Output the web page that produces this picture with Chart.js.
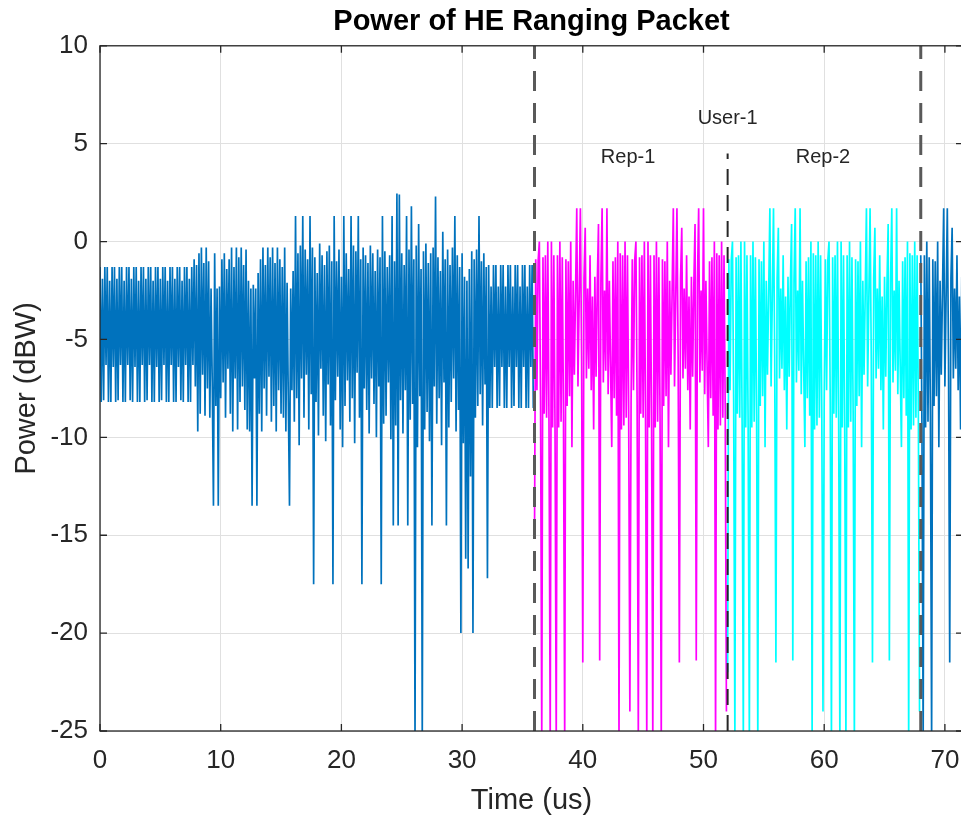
<!DOCTYPE html>
<html>
<head>
<meta charset="utf-8">
<script src="https://cdn.jsdelivr.net/npm/chart.js"></script>
</head>
<body style="margin:0;padding:0;overflow:hidden;background:#fff;">
<canvas id="powerChart" width="975" height="815"></canvas>
<script>
// sample spacing of the traces (us)
const dt = 0.1;

// blue trace, L-STF 0 - 7.9 us
const lstf = [
  -1.3,-8.2,-1.9,-8.1,-1.3,-6.3,-1.3,-8.2,-2.0,-8.2,
  -1.3,-6.4,-1.3,-8.2,-1.9,-8.1,-1.3,-6.3,-1.3,-8.2,
  -2.0,-8.2,-1.3,-6.3,-1.3,-8.1,-1.9,-8.2,-1.3,-6.4,
  -1.3,-8.2,-2.0,-8.2,-1.3,-6.3,-1.3,-8.2,-1.9,-8.1,
  -1.3,-6.3,-1.3,-8.2,-2.0,-8.2,-1.3,-6.4,-1.3,-8.2,
  -1.9,-8.1,-1.3,-6.3,-1.3,-8.2,-2.0,-8.2,-1.3,-6.3,
  -1.3,-8.2,-1.9,-8.2,-1.3,-6.4,-1.3,-8.1,-2.0,-8.2,
  -1.3,-6.3,-1.3,-8.2,-1.9,-8.2,-1.3,-6.3,-0.9,-7.4
];
// L-LTF 8.0 - 15.9 us
const lltf = [
  -1.2,-9.7,-0.6,-8.8,-0.3,-6.8,-1.1,-8.9,-0.3,-7.5,
  -1.0,-9.0,-2.4,-7.2,-13.5,-0.6,-8.4,-2.4,-13.5,-2.3,
  -8.0,-0.9,-7.2,-0.6,-9.0,-1.4,-6.5,-0.9,-8.8,-0.3,
  -9.7,-1.3,-7.0,-0.3,-9.6,-0.8,-8.2,-0.3,-7.4,-1.2,
  -8.6,-0.4,-9.6,-2.0,-9.7,-2.4,-13.5,-2.2,-7.0,-2.4,
  -13.5,-1.6,-8.8,-0.9,-9.7,-0.3,-7.5,-1.2,-8.9,-0.3,
  -6.9,-0.8,-9.2,-0.3,-8.4,-1.1,-9.7,-0.3,-7.6,-0.9,
  -8.8,-1.3,-9.0,-0.3,-9.7,-2.1,-8.0,-13.5,-2.4,-7.6
];
// L-SIG, RL-SIG, HE-SIG-A 16.0 - 31.9 us
const sig = [
  -1.5,-9.2,1.3,-8.0,-0.6,-10.4,-0.2,-7.0,1.3,-9.0,
  -0.4,-6.8,-0.9,-9.6,1.3,-7.8,-0.3,-17.5,-0.8,-8.2,
  -1.6,-9.9,-0.1,-6.5,-0.7,-8.9,-1.2,-10.2,-0.5,-7.3,
  -0.2,-9.4,-1.0,-17.5,1.3,-8.1,-1.0,-6.9,-0.4,-9.6,
  -1.8,-10.5,1.3,-8.4,-0.6,-7.1,-1.4,-9.2,1.3,-8.0,
  -0.2,-10.3,-0.5,-6.7,1.3,-9.0,-0.9,-17.5,-0.3,-7.5,
  -0.7,-8.6,-1.1,-9.8,-0.2,-7.0,-0.6,-8.3,-1.5,-10.0,
  -0.4,-7.4,-0.8,-17.5,1.3,-9.3,-0.5,-8.9,-1.3,-7.2,
  -0.7,-10.1,1.3,-14.5,-1.0,-9.4,2.46,-14.5,2.4,-8.1,
  -0.6,-9.8,-1.2,-7.6,1.3,-14.5,-0.4,-9.1,1.8,-8.3,
  -0.9,-25.5,-0.2,-10.5,0.9,-7.9,-1.4,-25.5,-0.5,-9.6,
  -0.1,-8.7,-1.1,-10.2,-0.6,-14.5,-0.3,-7.4,2.3,-9.3,
  -0.8,-8.0,-1.5,-10.4,0.5,-7.2,-0.9,-14.5,-0.4,-9.5,
  -1.2,-8.2,-0.3,-7.0,1.3,-9.7,-0.7,-8.6,-1.3,-20.0,
  -0.6,-10.3,-1.8,-16.2,-2.0,-16.7,-1.4,-12.0,-0.5,-20.0,
  -0.9,-9.0,-0.4,-8.4,1.3,-7.8,-1.0,-9.4,-0.6,-7.3
];
// HE-STF 32.0 - 35.9 us
const hestf = [
  -1.3,-17.2,-1.2,-8.5,-2.3,-8.5,-1.2,-6.4,-1.2,-8.5,
  -2.3,-8.4,-1.2,-6.4,-1.2,-8.5,-2.3,-8.5,-1.2,-6.4,
  -1.2,-8.5,-2.3,-8.4,-1.2,-6.4,-1.2,-8.5,-2.3,-8.5,
  -1.2,-6.4,-1.2,-8.5,-2.3,-8.5,-1.2,-6.4,-1.2,-8.5
];
// Rep-1 (magenta) 36.0 - 51.9 us
const rep1 = [
  -15.0,-0.9,-7.6,-1.0,0.0,-8.2,-25.5,-0.8,-8.8,-0.7,
  -9.0,0.0,-9.3,-25.5,0.0,-9.5,-0.7,-9.6,-25.5,-0.7,
  -9.5,0.0,-9.2,-0.8,-8.9,-25.5,-0.9,-8.4,-1.0,-7.9,
  0.0,-10.5,-2.0,-6.8,-2.6,1.7,-7.4,-2.9,1.7,-6.0,
  -21.5,-1.9,0.7,-7.0,-2.4,-6.5,-0.7,-7.6,-2.8,-9.6,
  -1.8,-6.9,-2.2,0.9,-21.4,-2.0,1.7,-7.2,-2.5,-6.6,
  1.7,-7.8,-2.0,-6.4,-10.5,-1.0,-8.0,-0.8,-8.9,0.0,
  -25.5,-0.6,-9.6,-0.7,-9.4,0.0,-9.0,-0.7,-8.6,-24.0,
  -8.3,-0.9,-7.6,-1.0,0.0,-8.2,-25.5,-0.8,-8.8,-0.7,
  -9.0,0.0,-9.3,-25.5,0.0,-9.5,-0.7,-9.6,-25.5,-0.7,
  -9.5,0.0,-9.2,-0.8,-8.9,-25.5,-0.9,-8.4,-1.0,-7.9,
  0.0,-10.5,-2.0,-6.8,-2.6,1.7,-7.4,-2.9,1.7,-6.0,
  -21.5,-1.9,0.7,-7.0,-2.4,-6.5,-0.7,-7.6,-2.8,-9.6,
  -1.8,-6.9,-2.2,0.9,-21.4,-2.0,1.7,-7.2,-2.5,-6.6,
  1.7,-7.8,-2.0,-6.4,-10.5,-1.0,-8.0,-0.8,-8.9,0.0,
  -25.5,-0.6,-9.6,-0.7,-9.4,0.0,-9.0,-0.7,-8.6,-24.0
];
// Rep-2 (cyan) 52.0 - 67.9 us, reads the same as Rep-1
const rep2 = [
  -22.0,-0.9,-7.6,-1.0,0.0,-8.2,-25.5,-0.8,-8.8,-0.7,
  -9.0,0.0,-9.3,-25.5,0.0,-9.5,-0.7,-9.6,-25.5,-0.7,
  -9.5,0.0,-9.2,-0.8,-8.9,-25.5,-0.9,-8.4,-1.0,-7.9,
  0.0,-10.5,-2.0,-6.8,-2.6,1.7,-7.4,-2.9,1.7,-6.0,
  -21.5,-1.9,0.7,-7.0,-2.4,-6.5,-0.7,-7.6,-2.8,-9.6,
  -1.8,-6.9,-2.2,0.9,-21.4,-2.0,1.7,-7.2,-2.5,-6.6,
  1.7,-7.8,-2.0,-6.4,-10.5,-1.0,-8.0,-0.8,-8.9,0.0,
  -25.5,-0.6,-9.6,-0.7,-9.4,0.0,-9.0,-0.7,-8.6,-24.0,
  -8.3,-0.9,-7.6,-1.0,0.0,-8.2,-25.5,-0.8,-8.8,-0.7,
  -9.0,0.0,-9.3,-25.5,0.0,-9.5,-0.7,-9.6,-25.5,-0.7,
  -9.5,0.0,-9.2,-0.8,-8.9,-25.5,-0.9,-8.4,-1.0,-7.9,
  0.0,-10.5,-2.0,-6.8,-2.6,1.7,-7.4,-2.9,1.7,-6.0,
  -21.5,-1.9,0.7,-7.0,-2.4,-6.5,-0.7,-7.6,-2.8,-9.6,
  -1.8,-6.9,-2.2,0.9,-21.4,-2.0,1.7,-7.2,-2.5,-6.6,
  1.7,-7.8,-2.0,-6.4,-10.5,-1.0,-8.0,-0.8,-8.9,0.0,
  -25.5,-0.6,-9.6,-0.7,-9.4,0.0,-9.0,-0.7,-8.6,-24.0
];
// blue again after the second repetition, 68.0 - 71.5 us
const post = [
  -0.7,-9.6,-25.5,-0.7,-9.5,0.0,-9.2,-0.8,-8.9,-25.5,
  -0.9,-8.4,-1.0,-7.9,0.0,-10.5,-2.0,-6.8,-2.6,1.7,
  -7.4,-2.9,1.7,-6.0,-21.5,-1.9,0.7,-7.0,-2.4,-6.5,
  -0.7,-7.6,-2.8,-9.6,-1.8,-6.9
];

const xTicks = [0, 10, 20, 30, 40, 50, 60, 70];
const yTicks = [10, 5, 0, -5, -10, -15, -20, -25];

// boundaries of the repetitions
const marks = [36, 52, 68];
const notes = [
  { text: 'User-1', x: 52, y: 6.3 },
  { text: 'Rep-1', x: 43.75, y: 4.3 },
  { text: 'Rep-2', x: 59.9, y: 4.3 }
];

Chart.defaults.font.family = '"Liberation Sans", Arial, Helvetica, sans-serif';

function pts(vals, x0) {
  return vals.map((v, i) => ({ x: Math.round((x0 + i * dt) * 10) / 10, y: v }));
}

function trace(vals, x0, color, order) {
  return {
    data: pts(vals, x0),
    borderColor: color,
    backgroundColor: color,
    borderWidth: 1.7,
    pointRadius: 0,
    clip: 0,
    order: order
  };
}

// box with inward ticks and the text notes, matlab style
const matlabBox = {
  id: 'matlabBox',
  afterDraw(chart) {
    const { ctx, chartArea: a, scales: { x, y } } = chart;
    ctx.save();
    ctx.strokeStyle = '#262626';
    ctx.lineWidth = 1.3;
    ctx.strokeRect(a.left, a.top, a.right - a.left, a.bottom - a.top);
    ctx.beginPath();
    xTicks.forEach(v => {
      const px = x.getPixelForValue(v);
      ctx.moveTo(px, a.bottom); ctx.lineTo(px, a.bottom - 7);
      ctx.moveTo(px, a.top); ctx.lineTo(px, a.top + 7);
    });
    yTicks.forEach(v => {
      const py = y.getPixelForValue(v);
      ctx.moveTo(a.left, py); ctx.lineTo(a.left + 7, py);
      ctx.moveTo(a.right, py); ctx.lineTo(a.right - 7, py);
    });
    ctx.stroke();
    ctx.font = '20px "Liberation Sans", Arial, sans-serif';
    ctx.fillStyle = '#262626';
    ctx.textAlign = 'center';
    ctx.textBaseline = 'middle';
    notes.forEach(n => ctx.fillText(n.text, x.getPixelForValue(n.x), y.getPixelForValue(n.y)));
    ctx.restore();
  }
};

const blue = '#0072BD';
const datasets = [
  { data: [{ x: marks[0], y: -25 }, { x: marks[0], y: 10 }], borderColor: '#595959', borderWidth: 3, borderDash: [20, 12], pointRadius: 0, order: 0 },
  { data: [{ x: marks[1], y: -25 }, { x: marks[1], y: 4.5 }], borderColor: '#262626', borderWidth: 2, borderDash: [16, 10], pointRadius: 0, order: 0 },
  { data: [{ x: marks[2], y: -25 }, { x: marks[2], y: 10 }], borderColor: '#595959', borderWidth: 3, borderDash: [20, 12], pointRadius: 0, order: 0 },
  trace(rep2, 52, '#00FFFF', 1),
  trace(rep1, 36, '#FF00FF', 2),
  trace([...lstf, ...lltf, ...sig, ...hestf], 0, blue, 3),
  trace(post, 68, blue, 3)
];

new Chart(document.getElementById('powerChart'), {
  type: 'line',
  data: { datasets: datasets },
  options: {
    responsive: false,
    animation: false,
    events: [],
    layout: { padding: { left: 0, right: 12, top: 0, bottom: 0 } },
    elements: { line: { tension: 0 } },
    plugins: {
      legend: { display: false },
      tooltip: { enabled: false },
      title: {
        display: true,
        text: 'Power of HE Ranging Packet',
        color: '#000',
        fullSize: false,
        font: { size: 29, weight: 'bold' },
        padding: { top: 5, bottom: 6 }
      }
    },
    scales: {
      x: {
        type: 'linear',
        min: 0,
        max: 71.5,
        afterBuildTicks: s => { s.ticks = xTicks.map(v => ({ value: v })); },
        afterFit: s => { s.height = 84; },
        grid: { color: '#e0e0e0', drawTicks: false },
        border: { display: false },
        ticks: { color: '#262626', font: { size: 26 }, padding: 14, maxRotation: 0 },
        title: { display: true, text: 'Time (us)', color: '#262626', font: { size: 29 }, padding: { top: 0, bottom: -3 } }
      },
      y: {
        type: 'linear',
        min: -25,
        max: 10,
        afterBuildTicks: s => { s.ticks = yTicks.map(v => ({ value: v })); },
        afterFit: s => { s.width = 100; },
        grid: { color: '#e0e0e0', drawTicks: false },
        border: { display: false },
        ticks: { color: '#262626', font: { size: 26 }, padding: 12 },
        title: { display: true, text: 'Power (dBW)', color: '#262626', font: { size: 29 }, padding: { top: 10, bottom: 0 } }
      }
    }
  },
  plugins: [matlabBox]
});
</script>
</body>
</html>
